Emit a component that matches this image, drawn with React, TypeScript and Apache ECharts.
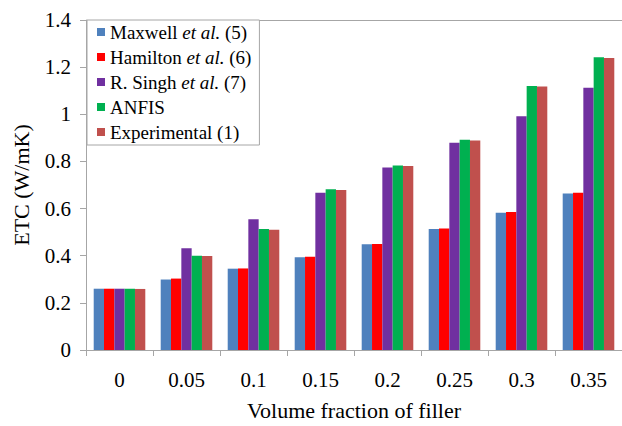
import React, { useEffect, useRef } from "react";
import * as echarts from "echarts";

const categories = ["0", "0.05", "0.1", "0.15", "0.2", "0.25", "0.3", "0.35"];
const seriesNames = [
  "Maxwell et al. (5)",
  "Hamilton et al. (6)",
  "R. Singh et al. (7)",
  "ANFIS",
  "Experimental (1)",
];
const maxwell = [0.26, 0.299, 0.345, 0.393, 0.449, 0.513, 0.582, 0.664];
const hamilton = [0.26, 0.303, 0.346, 0.396, 0.45, 0.515, 0.585, 0.667];
const singh = [0.26, 0.432, 0.555, 0.667, 0.774, 0.879, 0.992, 1.113];
const anfis = [0.26, 0.4, 0.513, 0.682, 0.783, 0.892, 1.12, 1.242];
const experimental = [0.259, 0.399, 0.51, 0.679, 0.781, 0.889, 1.118, 1.239];
const colors = ["#4F81BD", "#FF0000", "#7030A0", "#00B050", "#C0504D"];

const FONT = "Liberation Serif";

export default function App() {
  const ref = useRef<HTMLDivElement>(null);
  useEffect(() => {
    if (!ref.current) return;
    const chart = echarts.init(ref.current, undefined, { renderer: "svg" });
    const values = [maxwell, hamilton, singh, anfis, experimental];
    chart.setOption({
      animation: false,
      backgroundColor: "#ffffff",
      textStyle: { fontFamily: FONT },
      grid: { left: 86, top: 20, width: 538, height: 336, containLabel: false },
      legend: {
        orient: "vertical",
        left: 87,
        top: 20,
        backgroundColor: "#ffffff",
        borderColor: "#A6A6A6",
        borderWidth: 1,
        borderRadius: 0,
        padding: [2, 8, 3, 10],
        itemGap: 5,
        itemWidth: 8,
        itemHeight: 8,
        icon: "rect",
        data: seriesNames,
        formatter: (name: string) =>
          name.indexOf("et al.") >= 0 ? name.replace("et al.", "{i|et al.}") : name,
        textStyle: {
          fontFamily: FONT,
          fontSize: 19,
          color: "#000",
          lineHeight: 20,
          rich: {
            i: { fontStyle: "italic", fontFamily: FONT, fontSize: 19, color: "#000", lineHeight: 20 },
          },
        },
      },
      xAxis: [
        {
          type: "category",
          data: categories,
          position: "bottom",
          axisLine: { lineStyle: { color: "#A6A6A6", width: 1 } },
          axisTick: { show: true, length: 6, lineStyle: { color: "#A6A6A6" } },
          axisLabel: { fontFamily: FONT, fontSize: 21, color: "#000", margin: 19 },
          name: "Volume fraction of filler",
          nameLocation: "middle",
          nameGap: 49,
          nameTextStyle: { fontFamily: FONT, fontSize: 22, color: "#000" },
        },
        {
          type: "category",
          data: categories,
          position: "top",
          axisLine: { show: true, lineStyle: { color: "#A6A6A6", width: 1 } },
          axisTick: { show: false },
          axisLabel: { show: false },
        },
      ],
      yAxis: {
        type: "value",
        min: 0,
        max: 1.4,
        interval: 0.2,
        axisLine: { show: true, lineStyle: { color: "#A6A6A6", width: 1 } },
        axisTick: { show: true, length: 6, lineStyle: { color: "#A6A6A6" } },
        splitLine: { show: false },
        axisLabel: {
          fontFamily: FONT,
          fontSize: 21,
          color: "#000",
          margin: 15,
          formatter: (v: number) => String(Math.round(v * 10) / 10),
        },
        name: "ETC (W/mK)",
        nameLocation: "middle",
        nameGap: 54,
        nameTextStyle: { fontFamily: FONT, fontSize: 22, color: "#000" },
      },
      series: seriesNames.map((name, i) => ({
        name,
        type: "bar",
        data: values[i],
        barGap: "0%",
        barCategoryGap: "23%",
        itemStyle: { color: colors[i] },
      })),
    });
    return () => chart.dispose();
  }, []);
  return (
    <div
      ref={ref}
      style={{ position: "fixed", left: 0, top: 0, width: 622, height: 426 }}
    />
  );
}
